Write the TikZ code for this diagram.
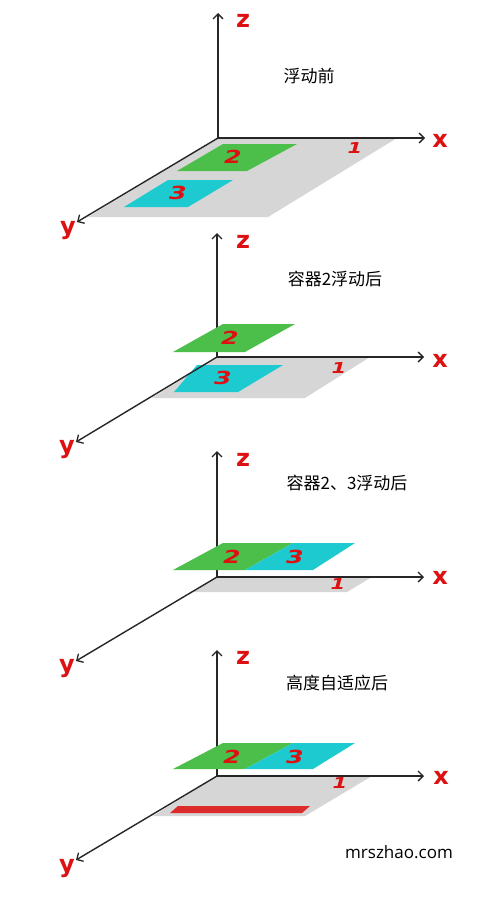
\documentclass[tikz,border=0pt]{standalone}
\usepackage{fontspec}
\newfontfamily\cjkf{Noto Sans CJK SC}
\newfontfamily\labf{DejaVu Sans}
\newfontfamily\webf{Open Sans}
\usetikzlibrary{arrows.meta}
\definecolor{planegray}{HTML}{D6D6D6}
\definecolor{boxgreen}{HTML}{4CBF4A}
\definecolor{boxcyan}{HTML}{1CCAD0}
\definecolor{labred}{HTML}{DD1111}
\definecolor{barred}{HTML}{DD2B2B}
\begin{document}
\begin{tikzpicture}[x=1pt,y=-1pt,
  axis/.style={draw=black!85, line width=1.4pt, -{Straight Barb[length=5pt,width=10pt,line width=1.3pt]}},
  axlabel/.style={text=labred, font=\labf\bfseries\fontsize{24}{24}\selectfont, inner sep=0pt},
  numlabel/.style={text=labred, font=\labf\bfseries\itshape\fontsize{18}{18}\selectfont, xscale=1.4, inner sep=0pt},
  onelabel/.style={text=labred, font=\labf\bfseries\itshape\fontsize{15}{15}\selectfont, xscale=1.4, inner sep=0pt},
  titlelabel/.style={font=\cjkf\fontsize{17}{17}\selectfont, inner sep=0pt},
]
\useasboundingbox[fill=white] (0,0) rectangle (500,902);

% ---------- panel 1 ----------
\coordinate (o1) at (218,138);
\coordinate (z1) at (218,13);
\coordinate (x1) at (425,138);
\coordinate (y1) at (77,222);
\fill[planegray] (218,138) -- (397,138) -- (268,217) -- (88,217) -- cycle;
\fill[boxgreen] (223,144) -- (297,144) -- (247,171) -- (177,171) -- cycle;
\fill[boxcyan] (168,180) -- (233,180) -- (188,207) -- (124,207) -- cycle;
\draw[axis] (o1) -- (z1);
\draw[axis] (o1) -- (x1);
\draw[axis] (o1) -- (y1);
\node[axlabel] (zl1) at (243,21) {z};
\node[axlabel] (xl1) at (440,141) {x};
\node[axlabel] (yl1) at (68,231) {y};
\node[numlabel] (n21) at (233,157) {2};
\node[numlabel] (n31) at (178,193) {3};
\node[onelabel] (n11) at (355,148) {1};
\node[titlelabel] (t1) at (309,76) {浮动前};

% ---------- panel 2 ----------
\coordinate (o2) at (217,357);
\coordinate (z2) at (217,233);
\coordinate (x2) at (424,357);
\coordinate (y2) at (76,442);
\fill[planegray] (217,357) -- (370,357) -- (305,398) -- (152,398) -- cycle;
\fill[boxcyan] (197,365) -- (283,365) -- (238,392) -- (174,392) -- cycle;
\draw[axis] (o2) -- (z2);
\draw[axis] (o2) -- (x2);
\draw[axis] (o2) -- (y2);
\fill[boxgreen] (223,324) -- (295,324) -- (245,352) -- (173,352) -- cycle;
\node[axlabel] (zl2) at (243,242) {z};
\node[axlabel] (xl2) at (440,361) {x};
\node[axlabel] (yl2) at (67,450) {y};
\node[numlabel] (n22) at (230,338) {2};
\node[numlabel] (n32) at (223,378) {3};
\node[onelabel] (n12) at (339,368) {1};
\node[titlelabel] (t2) at (335,279) {容器2浮动后};

% ---------- panel 3 ----------
\coordinate (o3) at (217,577);
\coordinate (z3) at (217,451);
\coordinate (x3) at (424,577);
\coordinate (y3) at (76,661);
\fill[planegray] (217,577) -- (372,577) -- (347,592) -- (193,592) -- cycle;
\draw[axis] (o3) -- (z3);
\draw[axis] (o3) -- (x3);
\draw[axis] (o3) -- (y3);
\fill[boxgreen] (223,543) -- (293,543) -- (245,570) -- (173,570) -- cycle;
\fill[boxcyan] (293,543) -- (355,543) -- (313,570) -- (245,570) -- cycle;
\node[axlabel] (zl3) at (243,460) {z};
\node[axlabel] (xl3) at (440,578) {x};
\node[axlabel] (yl3) at (67,669) {y};
\node[numlabel] (n23) at (232,557) {2};
\node[numlabel] (n33) at (295,557) {3};
\node[onelabel] (n13) at (338,584) {1};
\node[titlelabel] (t3) at (347,483) {容器2、3浮动后};

% ---------- panel 4 ----------
\coordinate (o4) at (217,776);
\coordinate (z4) at (217,650);
\coordinate (x4) at (424,776);
\coordinate (y4) at (76,860);
\fill[planegray] (217,776) -- (372,776) -- (305,816) -- (153,816) -- cycle;
\fill[barred] (178,806) -- (310,806) -- (302,813) -- (170,813) -- cycle;
\draw[axis] (o4) -- (z4);
\draw[axis] (o4) -- (x4);
\draw[axis] (o4) -- (y4);
\fill[boxgreen] (223,743) -- (293,743) -- (245,769) -- (173,769) -- cycle;
\fill[boxcyan] (293,743) -- (355,743) -- (313,769) -- (245,769) -- cycle;
\node[axlabel] (zl4) at (243,658) {z};
\node[axlabel] (xl4) at (441,778) {x};
\node[axlabel] (yl4) at (67,869) {y};
\node[numlabel] (n24) at (232,757) {2};
\node[numlabel] (n34) at (295,757) {3};
\node[onelabel] (n14) at (340,783) {1};
\node[titlelabel] (t4) at (337,683) {高度自适应后};

\node[font=\webf\fontsize{17}{17}\selectfont, inner sep=0pt] (site) at (399,852) {mrszhao.com};
\end{tikzpicture}
\end{document}
